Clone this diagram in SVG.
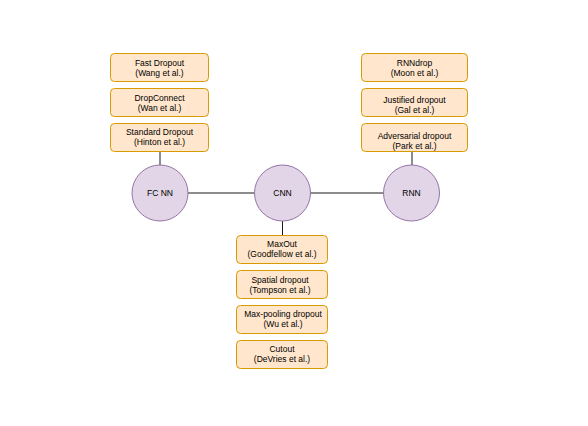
<svg xmlns="http://www.w3.org/2000/svg" width="588" height="426" viewBox="0 0 588 426">
<style>
.b{fill:#ffe6cc;stroke:#d79b00;stroke-width:1}
.c{fill:#e1d5e7;stroke:#9673a6;stroke-width:1}
.e{stroke:#1a1a1a;stroke-width:1;fill:none}
text{font-family:"Liberation Sans",Arial,sans-serif;font-size:8.5px;fill:#000;text-anchor:middle}
</style>
<rect width="588" height="426" fill="#fff"/>
<g id="connectors">
<line class="e" x1="188" y1="193" x2="254" y2="193"/>
<line class="e" x1="311" y1="193" x2="384" y2="193"/>
<line class="e" x1="160" y1="165" x2="160" y2="151"/>
<line class="e" x1="412" y1="165" x2="412" y2="151"/>
<line class="e" x1="282.5" y1="221" x2="282.5" y2="235"/>
</g>
<g id="fcnn"><circle class="c" cx="160" cy="193" r="28"/><text x="160" y="196">FC NN</text></g>
<g id="cnn"><circle class="c" cx="282.5" cy="193" r="28"/><text x="282.5" y="196">CNN</text></g>
<g id="rnn"><circle class="c" cx="411.5" cy="193" r="28"/><text x="411.5" y="196">RNN</text></g>
<g id="fastdropout"><rect class="b" x="110.5" y="53.5" width="98" height="28" rx="4"/><text x="159.5" y="66">Fast Dropout</text><text x="159.5" y="76">(Wang et al.)</text></g>
<g id="dropconnect"><rect class="b" x="110.5" y="88.5" width="98" height="28" rx="4"/><text x="159.5" y="100.5">DropConnect</text><text x="159.5" y="110.5">(Wan et al.)</text></g>
<g id="standard"><rect class="b" x="110.5" y="123.5" width="98" height="28" rx="4"/><text x="159.5" y="134.5">Standard Dropout</text><text x="159.5" y="144.5">(Hinton et al.)</text></g>
<g id="rnndrop"><rect class="b" x="361.5" y="53.5" width="106" height="28" rx="4"/><text x="414.5" y="66">RNNdrop</text><text x="414.5" y="76">(Moon et al.)</text></g>
<g id="justified"><rect class="b" x="361.5" y="88.5" width="106" height="28" rx="4"/><text x="414.5" y="103">Justified dropout</text><text x="414.5" y="113">(Gal et al.)</text></g>
<g id="adversarial"><rect class="b" x="361.5" y="123.5" width="106" height="28" rx="4"/><text x="414.5" y="138.5">Adversarial dropout</text><text x="414.5" y="148.5">(Park et al.)</text></g>
<g id="maxout"><rect class="b" x="236.5" y="235.5" width="91" height="28" rx="4"/><text x="282" y="247">MaxOut</text><text x="282" y="257">(Goodfellow et al.)</text></g>
<g id="spatial"><rect class="b" x="236.5" y="270.5" width="91" height="28" rx="4"/><text x="280" y="282.5">Spatial dropout</text><text x="280" y="292.5">(Tompson et al.)</text></g>
<g id="maxpool"><rect class="b" x="236.5" y="305.5" width="91" height="28" rx="4"/><text x="283" y="317">Max-pooling dropout</text><text x="283" y="327">(Wu et al.)</text></g>
<g id="cutout"><rect class="b" x="236.5" y="340.5" width="91" height="28" rx="4"/><text x="282" y="351.5">Cutout</text><text x="282" y="361.5">(DeVries et al.)</text></g>
</svg>
